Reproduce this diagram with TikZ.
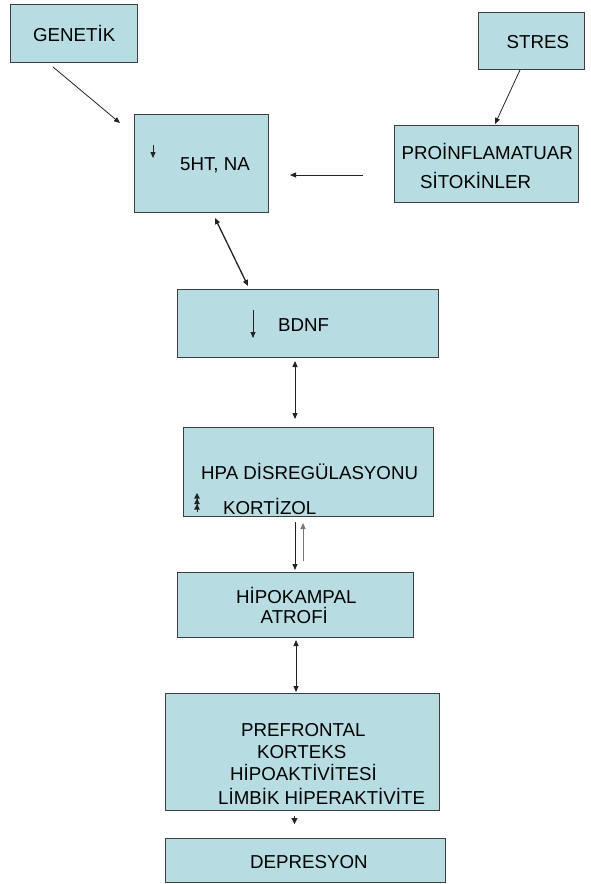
\documentclass[tikz,border=0pt]{standalone}
\usepackage{fontspec}
\setmainfont{Liberation Sans}
\usetikzlibrary{arrows.meta}
\definecolor{boxfill}{RGB}{183,221,227}
\definecolor{boxline}{RGB}{60,62,64}
\definecolor{arr}{RGB}{35,35,35}
\definecolor{arrgray}{RGB}{120,120,120}
\begin{document}
\begin{tikzpicture}[x=1pt,y=-1pt,
  box/.style={draw=boxline, fill=boxfill, line width=0.9pt, inner sep=0pt, outer sep=0pt},
  txt/.style={inner sep=0pt, anchor=west, text height=13.3pt, text depth=0pt, font=\fontsize{18.7}{20}\selectfont},
  conn/.style={draw=arr, line width=0.8pt, -{Triangle[length=6pt,width=5pt]}},
  bconn/.style={draw=arr, line width=0.8pt, {Triangle[length=6pt,width=5pt]}-{Triangle[length=6pt,width=5pt]}}]
\useasboundingbox[fill=white] (0,0) rectangle (591,884);

% boxes
\node[box, minimum width=127pt, minimum height=58pt] (gen) at (73.5,33) {};
\node[box, minimum width=106pt, minimum height=57pt] (stres) at (531,40.5) {};
\node[box, minimum width=134pt, minimum height=98pt] (ht) at (201,163) {};
\node[box, minimum width=184pt, minimum height=77pt] (pro) at (486,163.5) {};
\node[box, minimum width=261pt, minimum height=68pt] (bdnf) at (307.5,323) {};
\node[box, minimum width=250pt, minimum height=89pt] (hpa) at (308,471.5) {};
\node[box, minimum width=236pt, minimum height=65pt] (hipo) at (295,604.5) {};
\node[box, minimum width=274pt, minimum height=117pt] (pref) at (302,751.5) {};
\node[box, minimum width=280pt, minimum height=44pt] (dep) at (305,860) {};

% texts
\node[txt] (tgen) at (33,34.5) {GENETİK};
\node[txt] (tstres) at (506.5,41.5) {STRES};
\node[txt] (tht) at (180,163.5) {5HT, NA};
\node[txt] (tpro1) at (401.5,153.3) {PROİNFLAMATUAR};
\node[txt] (tpro2) at (420,181.5) {SİTOKİNLER};
\node[txt] (tbdnf) at (278,324.5) {BDNF};
\node[txt] (thpa) at (201,473.3) {HPA DİSREGÜLASYONU};
\node[txt] (tkort) at (223,508.3) {KORTİZOL};
\node[txt] (thipo1) at (236,596.7) {HİPOKAMPAL};
\node[txt] (thipo2) at (260.5,617) {ATROFİ};
\node[txt] (tpref1) at (241,729.7) {PREFRONTAL};
\node[txt] (tpref2) at (257,751.7) {KORTEKS};
\node[txt] (tpref3) at (230,773.7) {HİPOAKTİVİTESİ};
\node[txt] (tpref4) at (218,797.8) {LİMBİK HİPERAKTİVİTE};
\node[txt] (tdep) at (250,861.7) {DEPRESYON};

% connector end points
\coordinate (genA) at (53,67);
\coordinate (genB) at (120,123);
\coordinate (stA) at (520,70);
\coordinate (stB) at (495,124);
\coordinate (proA) at (363,175);
\coordinate (proB) at (290,175);
\coordinate (htA) at (215,218);
\coordinate (htB) at (248,286);
\coordinate (bdA) at (295,361);
\coordinate (bdB) at (295,419);
\coordinate (hpA) at (295,522);
\coordinate (hpB) at (295,570);
\coordinate (hqA) at (303,561);
\coordinate (hqB) at (303,523);
\coordinate (hiA) at (296,640);
\coordinate (hiB) at (296,692);
\coordinate (prA) at (294.5,816);
\coordinate (prB) at (294.5,824);

% connectors
\draw[conn] (genA) -- (genB);
\draw[conn] (stA) -- (stB);
\draw[conn] (proA) -- (proB);
\draw[bconn, line width=1.3pt] (htA) -- (htB);
\draw[bconn] (bdA) -- (bdB);
\draw[conn] (hpA) -- (hpB);
\draw[conn, draw=arrgray] (hqA) -- (hqB);
\draw[bconn] (hiA) -- (hiB);
\draw[conn, line width=0.4pt, -{Triangle[length=6pt,width=6pt]}] (prA) -- (prB);

% small arrows inside boxes
\coordinate (sa1) at (153,145);
\coordinate (sa2) at (153,158);
\draw[conn] (sa1) -- (sa2);
\coordinate (sb1) at (253,310);
\coordinate (sb2) at (253,338);
\draw[conn] (sb1) -- (sb2);
\coordinate (sc1) at (197,512);
\coordinate (sc2) at (197,493);
\draw[draw=arr, line width=0.8pt, -{Triangle[length=5.5pt,width=5.5pt]Triangle[length=5.5pt,width=5.5pt]Triangle[length=5.5pt,width=5.5pt]}] (sc1) -- (sc2);
\end{tikzpicture}
\end{document}
